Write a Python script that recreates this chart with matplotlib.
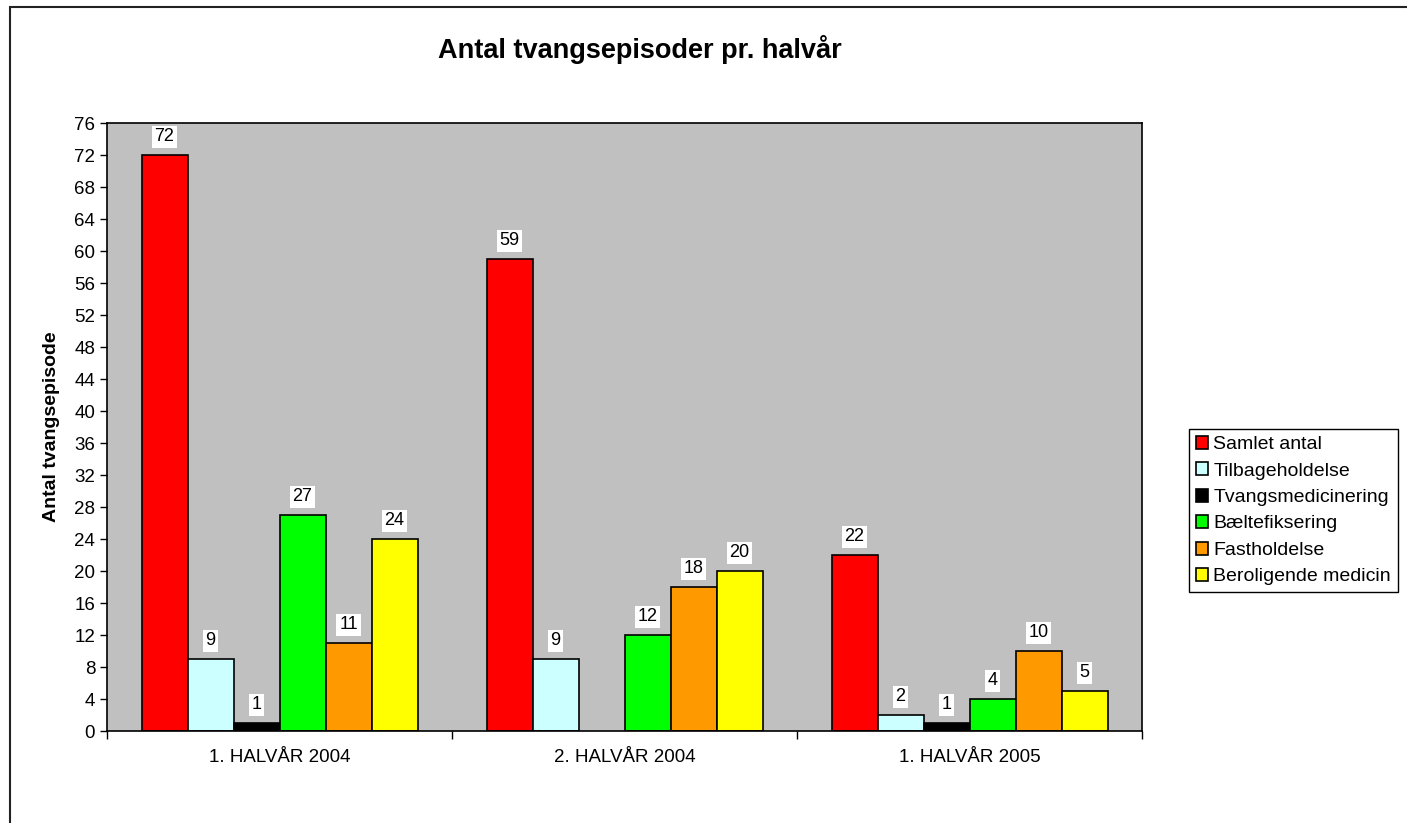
import numpy as np
import matplotlib
matplotlib.use("Agg")
import matplotlib.pyplot as plt
from matplotlib.patches import Rectangle

plt.rcParams['font.family'] = ['Liberation Sans', 'DejaVu Sans']

# data
periods = ["1. HALVÅR 2004", "2. HALVÅR 2004", "1. HALVÅR 2005"]
series_names = ["Samlet antal", "Tilbageholdelse", "Tvangsmedicinering",
                "Bæltefiksering", "Fastholdelse", "Beroligende medicin"]
samlet = [72, 59, 22]
tilbage = [9, 9, 2]
tvangsmed = [1, np.nan, 1]
baelte = [27, 12, 4]
fasthold = [11, 18, 10]
berolig = [24, 20, 5]
yticks = list(range(0, 77, 4))

series = [samlet, tilbage, tvangsmed, baelte, fasthold, berolig]
colors = ["#FF0000", "#CCFFFF", "#000000", "#00FF00", "#FF9900", "#FFFF00"]

fig = plt.figure(figsize=(14.07, 8.23), dpi=100)
ax = fig.add_axes([107/1407, 1 - 731/823, (1142 - 107)/1407, (731 - 123)/823])
ax.set_facecolor("#C0C0C0")

x = np.arange(len(periods))
n = len(series)
bw = 0.8 / n
for i, (vals, col, name) in enumerate(zip(series, colors, series_names)):
    pos = x - 0.4 + bw * (i + 0.5)
    ax.bar(pos, vals, width=bw, color=col, edgecolor="black", linewidth=1.2, label=name)
    for xp, v in zip(pos, vals):
        if np.isnan(v):
            continue
        ax.annotate("{:d}".format(int(v)), (xp, v), xytext=(0, 7), textcoords="offset points",
                    ha="center", va="bottom", fontsize=13,
                    bbox=dict(boxstyle="square,pad=0.15", fc="white", ec="none"))

ax.set_xlim(-0.5, len(periods) - 0.5)
ax.set_ylim(0, 76)
ax.set_yticks(yticks)
ax.tick_params(axis='y', labelsize=13.5, length=5, width=1, direction='out')
ax.set_xticks(x)
ax.set_xticklabels(periods, fontsize=13.5)
ax.tick_params(axis='x', length=0, pad=13)
ax.set_xticks(np.arange(-0.5, len(periods), 1), minor=True)
ax.tick_params(axis='x', which='minor', length=6, width=1)
for s in ax.spines.values():
    s.set_linewidth(1.2)

ax.set_ylabel("Antal tvangsepisode", fontsize=14, fontweight='bold', labelpad=10)
fig.text(640/1407, 1 - 49/823, "Antal tvangsepisoder pr. halvår", fontsize=19.5,
         fontweight='bold', ha='center', va='center')

leg = fig.legend(loc='upper left', bbox_to_anchor=(1189/1407, 1 - 429/823), fontsize=14,
                 frameon=True, fancybox=False, edgecolor='black', framealpha=1,
                 handlelength=0.65, handleheight=0.65, handletextpad=0.25,
                 labelspacing=0.47, borderpad=0.35, borderaxespad=0)
leg.get_frame().set_linewidth(1)

# outer chart border (only left and top are visible in the crop)
fig.patches.append(Rectangle((9.5/1407, -0.1), 1.2, 1.1 - 7/823, transform=fig.transFigure,
                             fill=False, ec="#222222", lw=1.5))

fig.savefig("out.png", dpi=100, facecolor="white")
